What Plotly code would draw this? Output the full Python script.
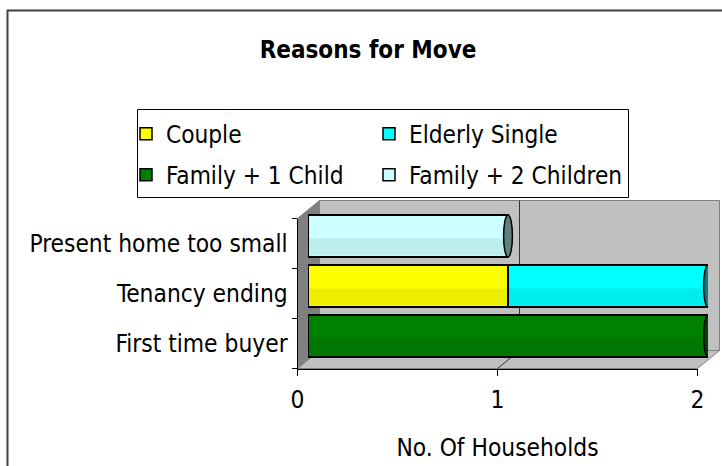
import plotly.graph_objects as go

# ---------------- data ----------------
categories = ["First time buyer", "Tenancy ending", "Present home too small"]
series_names = ["Couple", "Elderly Single", "Family + 1 Child", "Family + 2 Children"]
couple = [0, 1, 0]
elderly_single = [0, 1, 0]
family_1_child = [2, 0, 0]
family_2_children = [0, 0, 1]
x_ticks = [0, 1, 2]
title_text = "Reasons for Move"
x_title = "No. Of Households"

# ---------------- style ----------------
series_values = [couple, elderly_single, family_1_child, family_2_children]
fill_colors = ["#FFFF00", "#00FFFF", "#008000", "#CCFFFF"]
cap_colors = ["#808000", "#008080", "#004000", "#608080"]
legend_ids = ["legend", "legend", "legend2", "legend2"]
legend_widths = [198, 230, 198, 230]

FONT = "DejaVu Sans Condensed, Liberation Sans, Arial, sans-serif"
FS = 24.3
FS_LEG = 24.2
W, H = 722, 466

def fx(x):
    return x / W

def fy(y):
    return 1 - y / H

def P(x, y):
    return f"{fx(x):.5f},{fy(y):.5f}"

# geometry (pixels)
FX0, FX1 = 297.5, 697.5      # front axis x extent
FYT, FYB = 218.5, 368.5      # front axis y extent (top, bottom)
DX, DY = 22, -18             # 3D depth offset
BX0, BX1 = 308, 708          # bar plane x extent
BDY = -7.5                   # bar plane vertical shift
XMAX = x_ticks[-1]

def vx(v, depth=0.0):
    return FX0 + v * (FX1 - FX0) / XMAX + depth * DX

fig = go.Figure()

# bars (on the shifted "mid-depth" axis pair)
for i, (name, vals, col) in enumerate(zip(series_names, series_values, fill_colors)):
    fig.add_trace(go.Bar(
        name=name, y=categories, x=vals, orientation="h",
        xaxis="x2", yaxis="y2",
        width=0.84,
        marker=dict(color=col, line=dict(color="#000000", width=1.5)),
        legend=legend_ids[i], legendwidth=legend_widths[i],
    ))

# empty trace to anchor the visible front axes
fig.add_trace(go.Scatter(x=[], y=[], xaxis="x", yaxis="y", showlegend=False, hoverinfo="skip"))

shapes = []
wall_line = dict(color="#808080", width=1)
# outer chart frame
shapes.append(dict(type="rect", xref="paper", yref="paper",
                   x0=fx(7.5), x1=fx(800), y0=fy(600), y1=fy(10.5),
                   line=dict(color="#404040", width=2), fillcolor="rgba(0,0,0,0)", layer="below"))
# back wall
shapes.append(dict(type="path", xref="paper", yref="paper",
                   path=f"M{P(FX0+DX, FYT+DY)} L{P(FX1+DX, FYT+DY)} L{P(FX1+DX, FYB+DY)} L{P(FX0+DX, FYB+DY)} Z",
                   fillcolor="#C0C0C0", line=wall_line, layer="below"))
# left side wall
shapes.append(dict(type="path", xref="paper", yref="paper",
                   path=f"M{P(FX0, FYT)} L{P(FX0+DX, FYT+DY)} L{P(FX0+DX, FYB+DY)} L{P(FX0, FYB)} Z",
                   fillcolor="#808080", line=wall_line, layer="below"))
# floor
shapes.append(dict(type="path", xref="paper", yref="paper",
                   path=f"M{P(FX0, FYB)} L{P(FX1, FYB)} L{P(FX1+DX, FYB+DY)} L{P(FX0+DX, FYB+DY)} Z",
                   fillcolor="#C0C0C0", line=wall_line, layer="below"))
# gridlines at interior ticks
for t in x_ticks[1:-1]:
    shapes.append(dict(type="path", xref="paper", yref="paper",
                       path=f"M{P(vx(t), FYB)} L{P(vx(t, 1), FYB+DY)} L{P(vx(t, 1), FYT+DY)}",
                       line=dict(color="#303030", width=1), layer="below"))

# cylinder ends and shading (computed from the stacked data)
HALF_W = 0.022
HALF_H = 0.42
for ci in range(len(categories)):
    base = 0
    last = None
    for si, vals in enumerate(series_values):
        v = vals[ci]
        if v:
            shapes.append(dict(type="circle", xref="x2", yref="y2",
                               x0=base - HALF_W, x1=base + HALF_W, y0=ci - HALF_H, y1=ci + HALF_H,
                               fillcolor=fill_colors[si], line=dict(color="#000000", width=1.5),
                               layer="between"))
            # soft cylinder shading on the lower part of the segment
            shapes.append(dict(type="rect", xref="x2", yref="y2",
                               x0=base, x1=base + v, y0=ci - HALF_H + 0.03, y1=ci - 0.05,
                               fillcolor="rgba(0,0,0,0.07)", line=dict(width=0),
                               layer="above"))
            last = (si, base + v)
            base += v
    if last:
        si, end = last
        shapes.append(dict(type="circle", xref="x2", yref="y2",
                           x0=end - HALF_W, x1=end + HALF_W, y0=ci - HALF_H, y1=ci + HALF_H,
                           fillcolor=cap_colors[si], line=dict(color="#000000", width=1.5),
                           layer="above"))

# legend box
shapes.append(dict(type="rect", xref="paper", yref="paper",
                   x0=fx(137.5), x1=fx(628.5), y0=fy(197.5), y1=fy(109.5),
                   line=dict(color="#000000", width=1), fillcolor="#FFFFFF", layer="below"))

legend_common = dict(orientation="h",
                     font=dict(family=FONT, size=FS_LEG, color="#000000"),
                     bgcolor="rgba(0,0,0,0)", borderwidth=0, traceorder="normal",
                     xanchor="left", yanchor="middle", itemwidth=30)

fig.update_layout(
    width=W, height=H,
    margin=dict(l=0, r=0, t=0, b=0, pad=0, autoexpand=False),
    paper_bgcolor="#FFFFFF", plot_bgcolor="rgba(0,0,0,0)",
    barmode="stack", bargap=0.16,
    font=dict(family=FONT, size=FS, color="#000000"),
    title=dict(text=f"<b>{title_text}</b>", x=368 / W, xanchor="center",
               y=fy(50), yanchor="middle", font=dict(family=FONT, size=24, color="#000000")),
    shapes=shapes,
    legend=dict(x=fx(126), y=fy(134), **legend_common),
    legend2=dict(x=fx(126), y=fy(175), **legend_common),
    xaxis=dict(domain=[fx(FX0), fx(FX1)], range=[0, XMAX], anchor="y",
               tickmode="array", tickvals=x_ticks, ticks="outside", ticklen=6,
               tickcolor="#000000", showline=True, linecolor="#000000", linewidth=1,
               showgrid=False, zeroline=False, tickfont=dict(size=FS), ticklabelstandoff=3,
               title=dict(text=x_title, font=dict(size=FS), standoff=26)),
    yaxis=dict(domain=[fy(FYB), fy(FYT)], range=[-0.5, 2.5], anchor="x",
               tickmode="array", tickvals=list(range(len(categories))), ticktext=categories,
               ticks="outside", ticklen=4, tickcolor="rgba(0,0,0,0)",
               minor=dict(tickvals=[i - 0.5 for i in range(len(categories) + 1)],
                          ticks="outside", ticklen=5, tickcolor="#000000", showgrid=False),
               showline=True, linecolor="#000000", linewidth=1,
               showgrid=False, zeroline=False, tickfont=dict(size=FS)),
    xaxis2=dict(domain=[fx(BX0), fx(BX1)], range=[0, XMAX], anchor="y2", visible=False),
    yaxis2=dict(domain=[fy(FYB) - BDY / H, fy(FYT) - BDY / H], range=[-0.5, 2.5], anchor="x2",
                type="category", categoryorder="array", categoryarray=categories, visible=False),
    showlegend=True,
)

fig.write_html("out.html", config={"displayModeBar": False},
               post_script="document.body.style.margin='0';document.body.style.overflow='hidden';")
